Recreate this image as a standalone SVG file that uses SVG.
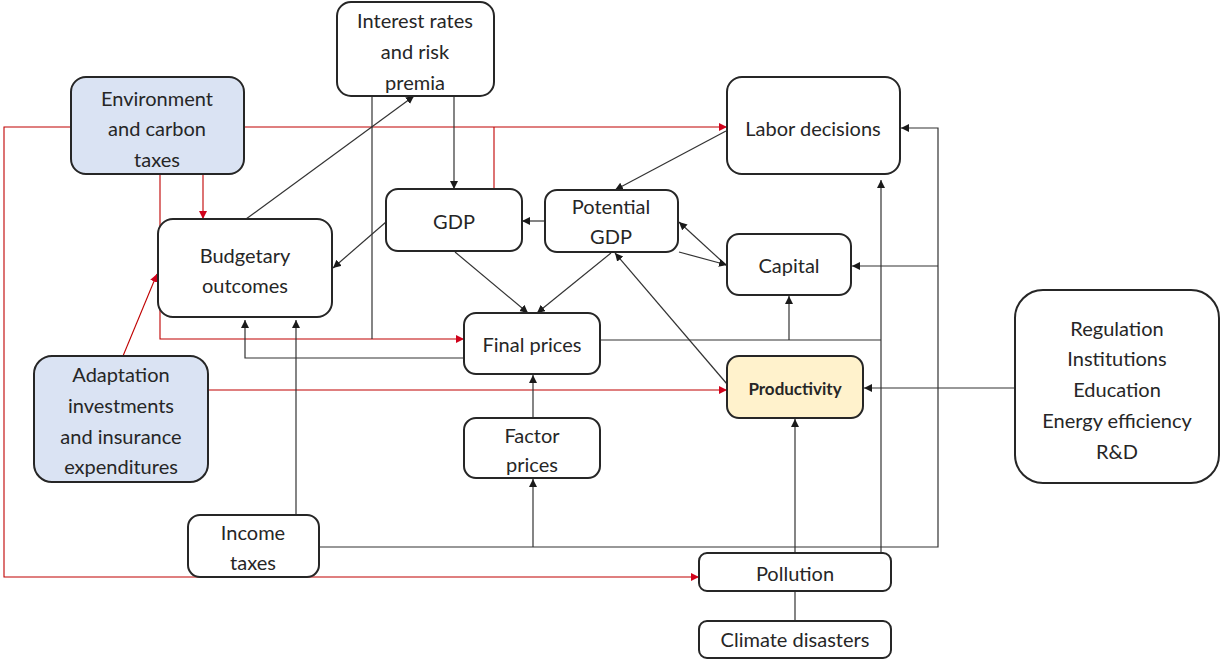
<svg xmlns="http://www.w3.org/2000/svg" width="1225" height="659" viewBox="0 0 1225 659">
  <style>
    .box { fill: #ffffff; stroke: #262626; stroke-width: 2; }
    .policy { fill: #dae3f3; }
    .focus { fill: #fff2cc; }
    .lbl { font-family: Lato, "Liberation Sans", sans-serif; font-size: 20px; fill: #262626; text-anchor: middle; dominant-baseline: central; }
    .bold { font-weight: bold; font-size: 17px; }
    .blk { fill: none; stroke: #333333; stroke-width: 1.2; }
    .red { fill: none; stroke: #c00000; stroke-width: 1.1; }
    .blk.arr { marker-end: url(#ab); }
    .red.arr { marker-end: url(#ar); }
  </style>
  <defs>
    <marker id="ab" markerUnits="userSpaceOnUse" markerWidth="9" markerHeight="9" refX="8" refY="4" orient="auto">
      <path d="M0,0 L8,4 L0,8 z" fill="#1a1a1a"/>
    </marker>
    <marker id="ar" markerUnits="userSpaceOnUse" markerWidth="9" markerHeight="9" refX="8" refY="4" orient="auto">
      <path d="M0,0 L8,4 L0,8 z" fill="#d0021b"/>
    </marker>
  </defs>

  <rect width="1225" height="659" fill="#ffffff"/>

  <!-- connectors -->
  <g id="connectors">
    <!-- policy channels (red) -->
    <path class="red arr" d="M71,127 H4 V577 H699"/>
    <path class="red arr" d="M244,127 H727"/>
    <path class="red arr" d="M203,174 V219"/>
    <path class="red arr" d="M160,174 V339 H464"/>
    <path class="red" d="M494,127 V189"/>
    <path class="red arr" d="M123,356 L157,274"/>
    <path class="red arr" d="M208,390 H727"/>

    <!-- economic links (black) -->
    <path class="blk arr" d="M454,96 V189"/>
    <path class="blk" d="M372,96 V339"/>
    <path class="blk arr" d="M246,219 L414,96"/>
    <path class="blk arr" d="M386,222 L333,268"/>
    <path class="blk arr" d="M545,221 H522"/>
    <path class="blk arr" d="M726,131 L615,190"/>
    <path class="blk arr" d="M727,266 L679,222"/>
    <path class="blk arr" d="M679,252 L727,265"/>
    <path class="blk arr" d="M455,252 L528,313"/>
    <path class="blk arr" d="M611,253 L537,313"/>
    <path class="blk arr" d="M727,384 L615,253"/>
    <path class="blk" d="M600,340 H881"/>
    <path class="blk arr" d="M789,340 V296"/>
    <path class="blk arr" d="M881,553 V180"/>
    <path class="blk arr" d="M319,547 H938 V128 H901"/>
    <path class="blk arr" d="M938,266 H852"/>
    <path class="blk arr" d="M533,547 V479"/>
    <path class="blk arr" d="M1015,388 H864"/>
    <path class="blk arr" d="M296,515 V320"/>
    <path class="blk arr" d="M464,358 H245 V320"/>
    <path class="blk arr" d="M533,418 V375"/>
    <path class="blk arr" d="M795,553 V419"/>
    <path class="blk" d="M795,621 V591"/>
  </g>

  <!-- nodes -->
  <g id="interest-rates">
    <rect class="box" x="337" y="2" width="157" height="94" rx="14"/>
    <text class="lbl" x="415" y="20">Interest rates</text>
    <text class="lbl" x="415" y="51">and risk</text>
    <text class="lbl" x="415" y="82">premia</text>
  </g>
  <g id="environment-taxes">
    <rect class="box policy" x="71" y="77" width="173" height="97" rx="15"/>
    <text class="lbl" x="157" y="98">Environment</text>
    <text class="lbl" x="157" y="128">and carbon</text>
    <text class="lbl" x="157" y="159">taxes</text>
  </g>
  <g id="labor-decisions">
    <rect class="box" x="727" y="77" width="173" height="97" rx="15"/>
    <text class="lbl" x="813" y="128">Labor decisions</text>
  </g>
  <g id="budgetary-outcomes">
    <rect class="box" x="158" y="219" width="174" height="98" rx="15"/>
    <text class="lbl" x="245" y="255">Budgetary</text>
    <text class="lbl" x="245" y="285">outcomes</text>
  </g>
  <g id="gdp">
    <rect class="box" x="386" y="189" width="136" height="62" rx="12"/>
    <text class="lbl" x="454" y="221">GDP</text>
  </g>
  <g id="potential-gdp">
    <rect class="box" x="545" y="190" width="133" height="62" rx="12"/>
    <text class="lbl" x="611" y="206">Potential</text>
    <text class="lbl" x="611" y="236">GDP</text>
  </g>
  <g id="capital">
    <rect class="box" x="727" y="234" width="124" height="61" rx="12"/>
    <text class="lbl" x="789" y="265">Capital</text>
  </g>
  <g id="final-prices">
    <rect class="box" x="464" y="313" width="136" height="61" rx="12"/>
    <text class="lbl" x="532" y="344">Final prices</text>
  </g>
  <g id="adaptation">
    <rect class="box policy" x="34" y="356" width="174" height="126" rx="18"/>
    <text class="lbl" x="121" y="374">Adaptation</text>
    <text class="lbl" x="121" y="405">investments</text>
    <text class="lbl" x="121" y="436">and insurance</text>
    <text class="lbl" x="121" y="466">expenditures</text>
  </g>
  <g id="productivity">
    <rect class="box focus" x="727" y="356" width="136" height="62" rx="12"/>
    <text class="lbl bold" x="795" y="388">Productivity</text>
  </g>
  <g id="factor-prices">
    <rect class="box" x="464" y="418" width="136" height="60" rx="12"/>
    <text class="lbl" x="532" y="435">Factor</text>
    <text class="lbl" x="532" y="464">prices</text>
  </g>
  <g id="structural-factors">
    <rect class="box" x="1015" y="290" width="204" height="193" rx="28"/>
    <text class="lbl" x="1117" y="328">Regulation</text>
    <text class="lbl" x="1117" y="358">Institutions</text>
    <text class="lbl" x="1117" y="389">Education</text>
    <text class="lbl" x="1117" y="420">Energy efficiency</text>
    <text class="lbl" x="1117" y="451">R&amp;D</text>
  </g>
  <g id="income-taxes">
    <rect class="box" x="188" y="515" width="131" height="62" rx="12"/>
    <text class="lbl" x="253" y="532">Income</text>
    <text class="lbl" x="253" y="562">taxes</text>
  </g>
  <g id="pollution">
    <rect class="box" x="699" y="553" width="192" height="38" rx="8"/>
    <text class="lbl" x="795" y="573">Pollution</text>
  </g>
  <g id="climate-disasters">
    <rect class="box" x="699" y="621" width="192" height="37" rx="8"/>
    <text class="lbl" x="795" y="639">Climate disasters</text>
  </g>
</svg>
